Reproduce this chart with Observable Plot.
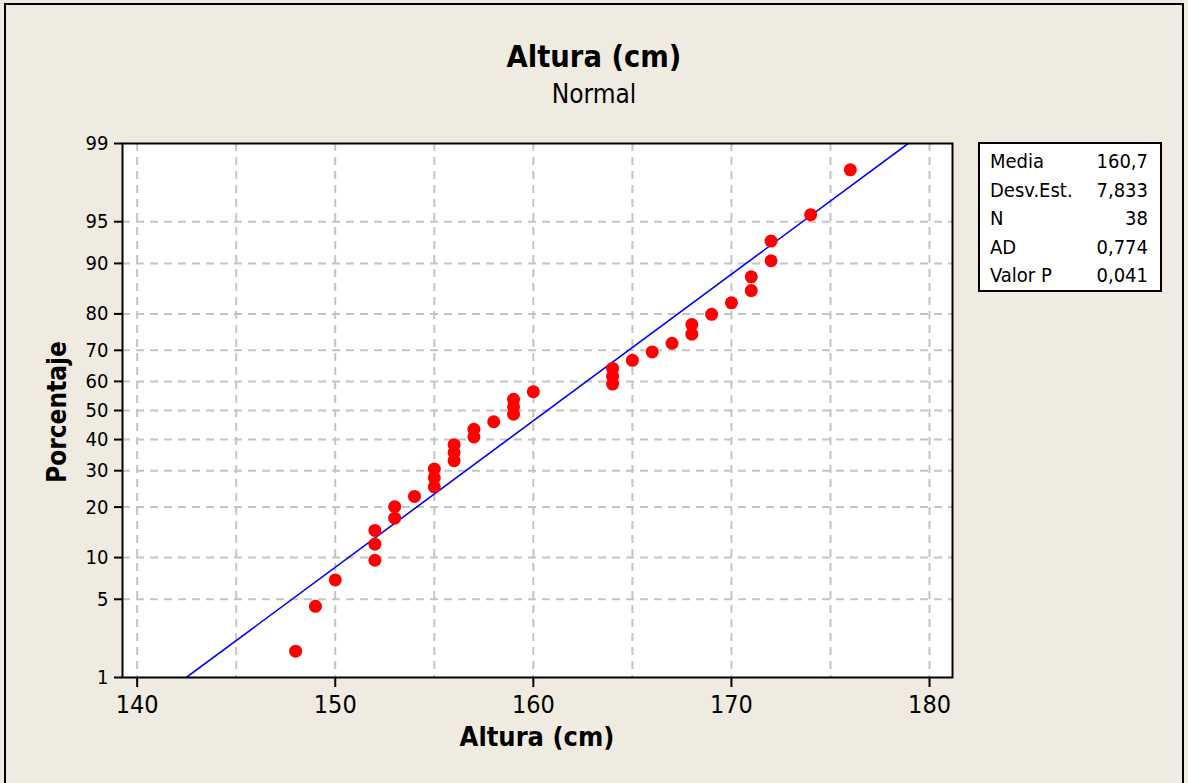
<!DOCTYPE html>
<html>
<head>
<meta charset="utf-8">
<script src="https://cdn.jsdelivr.net/npm/d3@7"></script>
<script src="https://cdn.jsdelivr.net/npm/@observablehq/plot@0.6"></script>
<style>
  html, body { margin: 0; padding: 0; overflow: hidden; background: #efebe1; }
  #wrap { position: relative; width: 1188px; height: 783px; background: #efebe1;
          font-family: "DejaVu Sans Condensed", "DejaVu Sans", sans-serif; color: #000; }
  #border { position: absolute; left: 4px; top: 3px; width: 1180px; height: 800px; border: 2px solid #000; box-sizing: border-box; }
  #chart { position: absolute; left: 0; top: 0; }
  .abs { position: absolute; white-space: nowrap; }
  #title { left: 0; width: 1188px; top: 39px; text-align: center; font-weight: bold; font-size: 30.5px; line-height: 36px; }
  #subtitle { left: 0; width: 1188px; top: 78px; text-align: center; font-size: 26px; line-height: 32px; }
  #xlabel { left: 122px; width: 830px; top: 721px; text-align: center; font-weight: bold; font-size: 27px; line-height: 32px; }
  #ylabel { left: 57px; top: 412px; transform: translate(-50%, -50%) rotate(-90deg); font-weight: bold; font-size: 26px; line-height: 30px; }
  #stats { left: 978px; top: 142px; width: 184px; height: 150px; box-sizing: border-box; border: 2px solid #000; background: #fff; padding: 3px 12px 0 10px; font-size: 20px; }
  #stats .row { display: flex; justify-content: space-between; height: 28.5px; line-height: 28.5px; }
</style>
</head>
<body>
<div id="wrap">
  <div id="chart"></div>
  <div id="border"></div>
  <div id="title" class="abs">Altura (cm)</div>
  <div id="subtitle" class="abs">Normal</div>
  <div id="xlabel" class="abs">Altura (cm)</div>
  <div id="ylabel" class="abs">Porcentaje</div>
  <div id="stats" class="abs"></div>
</div>
<script>
// ---- data ----
const alturas = [148, 149, 150, 152, 152, 152, 153, 153, 154, 155, 155, 155, 156, 156, 156, 157, 157, 158, 159, 159,
                 159, 160, 164, 164, 164, 165, 166, 167, 168, 168, 169, 170, 171, 171, 172, 172, 174, 176];
const porcentajes = [1.8, 4.4, 7.0, 9.6, 12.2, 14.8, 17.4, 20.1, 22.7, 25.3, 27.9, 30.5, 33.1, 35.7, 38.3, 40.9, 43.5, 46.1, 48.7, 51.3,
                     53.9, 56.5, 59.1, 61.7, 64.3, 66.9, 69.5, 72.1, 74.7, 77.3, 79.9, 82.6, 85.2, 87.8, 90.4, 93.0, 95.6, 98.2];
const yTickLabels = [1, 5, 10, 20, 30, 40, 50, 60, 70, 80, 90, 95, 99];
const yGridValues = [5, 10, 20, 30, 40, 50, 60, 70, 80, 90, 95];
const xTickValues = [140, 150, 160, 170, 180];
const xGridValues = [140, 145, 150, 155, 160, 165, 170, 175, 180];
const fitMedia = 160.7;
const fitDesv = 7.833;
const lineaPct = [1, 99];
const statNames = ["Media", "Desv.Est.", "N", "AD", "Valor P"];
const statValues = ["160,7", "7,833", "38", "0,774", "0,041"];

// inverse normal CDF (Acklam) for the probability (probit) scale
function probit(p) {
  const a = [-3.969683028665376e+01, 2.209460984245205e+02, -2.759285104469687e+02, 1.383577518672690e+02, -3.066479806614716e+01, 2.506628277459239e+00];
  const b = [-5.447609879822406e+01, 1.615858368580409e+02, -1.556989798598866e+02, 6.680131188771972e+01, -1.328068155288572e+01];
  const c = [-7.784894002430293e-03, -3.223964580411365e-01, -2.400758277161838e+00, -2.549732810962481e+00, 4.374664141464968e+00, 2.938163982698783e+00];
  const d = [7.784695709041462e-03, 3.224671290700398e-01, 2.445134137142996e+00, 3.754408661907416e+00];
  const plow = 0.02425;
  if (p < plow) {
    const q = Math.sqrt(-2 * Math.log(p));
    return (((((c[0]*q+c[1])*q+c[2])*q+c[3])*q+c[4])*q+c[5]) / ((((d[0]*q+d[1])*q+d[2])*q+d[3])*q+1);
  }
  if (p > 1 - plow) {
    const q = Math.sqrt(-2 * Math.log(1 - p));
    return -(((((c[0]*q+c[1])*q+c[2])*q+c[3])*q+c[4])*q+c[5]) / ((((d[0]*q+d[1])*q+d[2])*q+d[3])*q+1);
  }
  const q = p - 0.5, r = q * q;
  return (((((a[0]*r+a[1])*r+a[2])*r+a[3])*r+a[4])*r+a[5])*q / (((((b[0]*r+b[1])*r+b[2])*r+b[3])*r+b[4])*r+1);
}
const z = pct => probit(pct / 100);

const puntos = alturas.map((x, i) => ({x, y: z(porcentajes[i])}));
const linea = lineaPct.map(p => ({x: fitMedia + fitDesv * z(p), y: z(p)}));
const tickZ = yTickLabels.map(z);
const labelOf = v => { const i = tickZ.findIndex(t => Math.abs(t - v) < 1e-9); return i >= 0 ? String(yTickLabels[i]) : ""; };

const chart = Plot.plot({
  width: 1188,
  height: 783,
  marginLeft: 122,
  marginRight: 236,
  marginTop: 143,
  marginBottom: 106,
  style: {background: "transparent", fontFamily: '"DejaVu Sans Condensed", "DejaVu Sans", sans-serif', color: "#000"},
  x: {domain: [139.26, 181.16]},
  y: {domain: [z(1), z(99)]},
  marks: [
    Plot.frame({fill: "white", stroke: null}),
    Plot.gridX(xGridValues, {stroke: "#c4c4c4", strokeOpacity: 1, strokeWidth: 2, strokeDasharray: "8,6"}),
    Plot.gridY(yGridValues.map(z), {stroke: "#c4c4c4", strokeOpacity: 1, strokeWidth: 2, strokeDasharray: "8,6"}),
    Plot.line(linea, {x: "x", y: "y", stroke: "#0000ff", strokeWidth: 1.6, clip: true}),
    Plot.dot(puntos, {x: "x", y: "y", r: 6.5, fill: "#ff0000", stroke: null}),
    Plot.frame({stroke: "#000", strokeWidth: 2}),
    Plot.axisX(xTickValues, {tickSize: 10, tickPadding: 8, fontSize: 25, strokeWidth: 2, label: null}),
    Plot.axisY(tickZ, {tickSize: 8, tickPadding: 6, fontSize: 20, strokeWidth: 2, label: null, tickFormat: labelOf})
  ]
});
document.getElementById("chart").appendChild(chart);

const stats = document.getElementById("stats");
statNames.forEach((n, i) => {
  const row = document.createElement("div");
  row.className = "row";
  const a = document.createElement("span"); a.textContent = n;
  const b = document.createElement("span"); b.textContent = statValues[i];
  row.appendChild(a); row.appendChild(b);
  stats.appendChild(row);
});
</script>
</body>
</html>
